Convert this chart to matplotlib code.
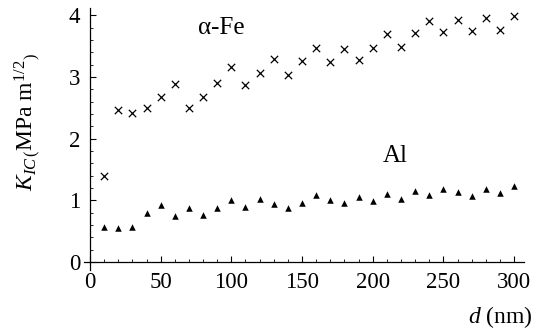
import matplotlib
matplotlib.use("Agg")
import matplotlib.pyplot as plt
from matplotlib.ticker import MultipleLocator

plt.rcParams['font.family'] = ['Liberation Serif', 'DejaVu Serif']
plt.rcParams['mathtext.fontset'] = 'custom'
plt.rcParams['mathtext.rm'] = 'Liberation Serif'
plt.rcParams['mathtext.it'] = 'Liberation Serif:italic'

# grain size d (nm)
d = [10, 20, 30, 40, 50, 60, 70, 80, 90, 100,
     110, 120, 130, 140, 150, 160, 170, 180, 190, 200,
     210, 220, 230, 240, 250, 260, 270, 280, 290, 300]

# fracture toughness K_IC (MPa m^1/2)
k_fe = [1.39, 2.46, 2.42, 2.50, 2.68, 2.88, 2.49, 2.68, 2.91, 3.17,
        2.87, 3.07, 3.30, 3.04, 3.26, 3.47, 3.25, 3.46, 3.27, 3.47,
        3.70, 3.49, 3.71, 3.91, 3.73, 3.93, 3.74, 3.95, 3.77, 3.99]
k_al = [0.56, 0.55, 0.57, 0.79, 0.92, 0.75, 0.88, 0.76, 0.88, 1.00,
        0.90, 1.02, 0.94, 0.87, 0.96, 1.09, 1.00, 0.95, 1.06, 0.99,
        1.10, 1.02, 1.15, 1.09, 1.18, 1.13, 1.07, 1.18, 1.12, 1.23]

fig = plt.figure(figsize=(5.46, 3.35), dpi=100)
ax = fig.add_axes([84.3 / 546, (335 - 270) / 335, (524 - 84.3) / 546, (270 - 8) / 335])

ax.scatter(d, k_fe, marker='x', s=28, color='black', linewidths=0.9)
ax.scatter(d, k_al, marker='^', s=22, color='black', linewidths=0)

ax.set_xlim(-4, 307)
ax.set_ylim(-0.13, 4.12)

# Mathematica-style crossing axes
ax.spines['left'].set_position(('data', 0))
ax.spines['bottom'].set_position(('data', 0))
ax.spines['right'].set_visible(False)
ax.spines['top'].set_visible(False)
for sp in ('left', 'bottom'):
    ax.spines[sp].set_linewidth(0.9)

ax.xaxis.set_major_locator(MultipleLocator(50))
ax.xaxis.set_minor_locator(MultipleLocator(10))
ax.yaxis.set_major_locator(MultipleLocator(1))
ax.yaxis.set_minor_locator(MultipleLocator(0.2))
ax.tick_params(which='major', direction='in', length=4, width=0.8, labelsize=16.5, pad=7)
ax.tick_params(which='minor', direction='in', length=2, width=0.6)

ax.text(93, 3.79, 'α-Fe', fontsize=18, ha='center', va='center')
ax.text(216, 1.72, 'Al', fontsize=18, ha='center', va='center')

fig.text(28 / 546, (335 - 122) / 335,
         r'$K_{IC\,\mathrm{(}}\mathrm{MPa\ m}^{1/2}{}_{\mathrm{)}}$',
         rotation=90, fontsize=17, ha='center', va='center')
fig.text(533 / 546, (335 - 317) / 335, r'$d$ (nm)', fontsize=17, ha='right', va='center')

fig.savefig('out.png', dpi=100)
